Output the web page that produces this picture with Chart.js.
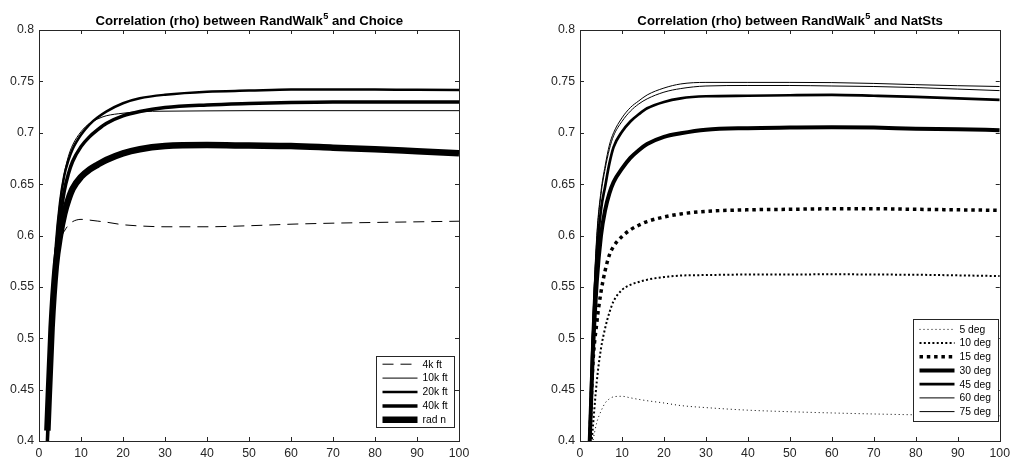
<!DOCTYPE html>
<html>
<head>
<meta charset="utf-8">
<script src="https://cdn.jsdelivr.net/npm/chart.js@4.4.1/dist/chart.umd.min.js"></script>
<style>
  html, body { margin: 0; padding: 0; background: #fff; }
  body { width: 1015px; height: 462px; position: relative; overflow: hidden; }
  .painel { position: absolute; top: 0; }
  #painelEsq { left: 0; }
  #painelDir { left: 507px; }
</style>
</head>
<body>
<div class="painel" id="painelEsq"><canvas id="graficoChoice" width="507" height="462"></canvas></div>
<div class="painel" id="painelDir"><canvas id="graficoNatSts" width="508" height="462"></canvas></div>
<script>
// x positions shared by every curve
const steps = [2, 3, 4, 5, 6, 7, 8, 10, 12, 14, 16, 20, 24, 30, 40, 50, 60, 70, 80, 90, 100];

// left panel: RandWalk5 vs Choice
const choice4k  = [0.39, 0.50, 0.57, 0.595, 0.604, 0.610, 0.6135, 0.6157, 0.615, 0.614, 0.613, 0.6105, 0.6093, 0.6085, 0.6085, 0.6095, 0.611, 0.612, 0.6127, 0.6133, 0.6139];
const choice10k = [0.39, 0.52, 0.592, 0.634, 0.660, 0.677, 0.688, 0.701, 0.709, 0.7135, 0.7165, 0.719, 0.7205, 0.721, 0.7213, 0.7215, 0.7215, 0.7215, 0.7215, 0.7215, 0.7215];
const choice20k = [0.39, 0.52, 0.59, 0.632, 0.658, 0.673, 0.684, 0.698, 0.708, 0.715, 0.7206, 0.7287, 0.7335, 0.737, 0.740, 0.741, 0.742, 0.7422, 0.742, 0.7418, 0.7416];
const choice40k = [0.40, 0.515, 0.58, 0.615, 0.643, 0.660, 0.672, 0.6865, 0.696, 0.703, 0.709, 0.7164, 0.7206, 0.7245, 0.7271, 0.7285, 0.7295, 0.730, 0.730, 0.730, 0.730];
const choiceRad = [0.41, 0.51, 0.57, 0.60, 0.621, 0.635, 0.6455, 0.657, 0.664, 0.669, 0.6735, 0.680, 0.684, 0.687, 0.688, 0.6875, 0.687, 0.6855, 0.684, 0.682, 0.680];

// right panel: RandWalk5 vs NatSts
const nat5  = [0.37, 0.398, 0.418, 0.429, 0.437, 0.441, 0.443, 0.4435, 0.442, 0.4405, 0.4392, 0.437, 0.4345, 0.4325, 0.430, 0.4285, 0.4273, 0.4263, 0.4255, 0.425, 0.4245];
const nat10 = [0.36, 0.41, 0.458, 0.49, 0.51, 0.525, 0.536, 0.547, 0.552, 0.5548, 0.557, 0.5595, 0.561, 0.5615, 0.562, 0.562, 0.5623, 0.562, 0.5618, 0.5612, 0.5605];
const nat15 = [0.36, 0.47, 0.515, 0.545, 0.566, 0.581, 0.5895, 0.599, 0.6055, 0.61, 0.6136, 0.618, 0.621, 0.6235, 0.625, 0.6255, 0.626, 0.626, 0.6255, 0.625, 0.6245];
const nat30 = [0.36, 0.48, 0.555, 0.600, 0.625, 0.641, 0.652, 0.665, 0.6755, 0.683, 0.689, 0.696, 0.6995, 0.703, 0.7045, 0.705, 0.7053, 0.705, 0.704, 0.7035, 0.7025];
const nat45 = [0.36, 0.50, 0.58, 0.625, 0.648, 0.670, 0.686, 0.701, 0.711, 0.718, 0.7238, 0.730, 0.7335, 0.7355, 0.736, 0.7365, 0.7368, 0.736, 0.735, 0.7335, 0.732];
const nat60 = [0.36, 0.51, 0.60, 0.643, 0.668, 0.688, 0.700, 0.7145, 0.7245, 0.731, 0.7368, 0.7435, 0.7475, 0.749, 0.749, 0.749, 0.7488, 0.748, 0.7468, 0.7458, 0.745];
const nat75 = [0.36, 0.508, 0.597, 0.64, 0.665, 0.684, 0.697, 0.711, 0.721, 0.728, 0.733, 0.7395, 0.743, 0.7455, 0.746, 0.746, 0.7455, 0.745, 0.744, 0.7425, 0.741];

const xTicks = [0, 100, 10];     // min, max, step
const yTicks = [0.4, 0.8, 0.05];

const FONT = "'Liberation Sans', Arial, Helvetica, sans-serif";
const INK = "#262626";

Chart.defaults.font.family = FONT;
Chart.defaults.color = INK;

function serie(label, values, width, dash) {
  return {
    label: label,
    data: steps.map((x, i) => ({ x: x, y: values[i] })),
    borderColor: "#000",
    borderWidth: width,
    borderDash: dash || [],
    borderCapStyle: "butt",
    pointRadius: 0,
    cubicInterpolationMode: "monotone",
    clip: 0,
    fill: false
  };
}

// box frame with inward ticks on all four sides
const frameTicks = {
  id: "frameTicks",
  afterDatasetsDraw(chart) {
    const { ctx, chartArea: a, scales } = chart;
    const len = 4;
    ctx.save();
    ctx.strokeStyle = INK;
    ctx.lineWidth = 1;
    ctx.setLineDash([]);
    ctx.beginPath();
    scales.x.ticks.forEach(t => {
      const px = Math.round(scales.x.getPixelForValue(t.value)) + 0.5;
      ctx.moveTo(px, a.bottom); ctx.lineTo(px, a.bottom - len);
      ctx.moveTo(px, a.top); ctx.lineTo(px, a.top + len);
    });
    scales.y.ticks.forEach(t => {
      const py = Math.round(scales.y.getPixelForValue(t.value)) + 0.5;
      ctx.moveTo(a.left, py); ctx.lineTo(a.left + len, py);
      ctx.moveTo(a.right, py); ctx.lineTo(a.right - len, py);
    });
    ctx.stroke();
    ctx.strokeRect(Math.round(a.left) + 0.5, Math.round(a.top) + 0.5,
      Math.round(a.right - a.left), Math.round(a.bottom - a.top));
    ctx.restore();
  }
};

// legend box drawn inside the plot, bottom right
const boxLegend = {
  id: "boxLegend",
  afterDatasetsDraw(chart, args, opts) {
    const { ctx, chartArea: a } = chart;
    const sets = chart.data.datasets;
    const left = Math.round(a.right - opts.offsetRight - opts.width) + 0.5;
    const top = Math.round(a.bottom - opts.offsetBottom - opts.height) + 0.5;
    const pad = (opts.height - opts.rowH * sets.length) / 2;
    ctx.save();
    ctx.fillStyle = "#fff";
    ctx.fillRect(left, top, opts.width, opts.height);
    ctx.strokeStyle = INK;
    ctx.lineWidth = 1;
    ctx.strokeRect(left, top, opts.width, opts.height);
    ctx.font = "10.3px " + FONT;
    ctx.textBaseline = "middle";
    ctx.textAlign = "left";
    sets.forEach((ds, i) => {
      const cy = top + pad + opts.rowH * (i + 0.5);
      ctx.beginPath();
      ctx.strokeStyle = "#000";
      ctx.lineWidth = ds.borderWidth;
      ctx.lineCap = "butt";
      ctx.setLineDash(ds.borderDash);
      ctx.moveTo(left + 6, cy);
      ctx.lineTo(left + 41, cy);
      ctx.stroke();
      ctx.fillStyle = "#000";
      ctx.fillText(ds.label, left + 46, cy + 0.5);
    });
    ctx.restore();
  }
};

// title with a raised "5"
const supTitle = {
  id: "supTitle",
  afterDraw(chart, args, opts) {
    const { ctx, chartArea: a } = chart;
    const base = "bold 13.2px " + FONT;
    const small = "bold 9.2px " + FONT;
    ctx.save();
    ctx.fillStyle = "#000";
    ctx.textBaseline = "alphabetic";
    ctx.textAlign = "left";
    ctx.font = base;
    const w1 = ctx.measureText(opts.before).width;
    const w3 = ctx.measureText(opts.after).width;
    ctx.font = small;
    const w2 = ctx.measureText(opts.sup).width;
    let x = (a.left + a.right) / 2 - (w1 + w2 + w3) / 2;
    const y = a.top - 5;
    ctx.font = base;
    ctx.fillText(opts.before, x, y);
    x += w1 + 0.5;
    ctx.font = small;
    ctx.fillText(opts.sup, x, y - 5.7);
    x += w2;
    ctx.font = base;
    ctx.fillText(opts.after, x, y);
    ctx.restore();
  }
};

function montarGrafico(canvasId, datasets, padding, legend, title) {
  return new Chart(document.getElementById(canvasId), {
    type: "line",
    data: { datasets: datasets },
    options: {
      responsive: false,
      animation: false,
      devicePixelRatio: 1,
      layout: { padding: padding },
      plugins: {
        legend: { display: false },
        tooltip: { enabled: false },
        boxLegend: legend,
        supTitle: title
      },
      scales: {
        x: {
          type: "linear",
          min: xTicks[0],
          max: xTicks[1],
          grid: { display: false, drawTicks: false },
          border: { display: false },
          ticks: {
            stepSize: xTicks[2],
            padding: 5,
            color: INK,
            font: { size: 12.3 },
            maxRotation: 0
          },
          afterFit: s => { s.height = 21; }
        },
        y: {
          type: "linear",
          min: yTicks[0],
          max: yTicks[1],
          grid: { display: false, drawTicks: false },
          border: { display: false },
          ticks: {
            stepSize: yTicks[2],
            padding: 5,
            color: INK,
            font: { size: 12.3 },
            callback: v => String(Number(v.toFixed(2)))
          },
          afterFit: s => { s.width = 34; }
        }
      }
    },
    plugins: [frameTicks, boxLegend, supTitle]
  });
}

montarGrafico("graficoChoice", [
  serie("4k ft", choice4k, 1, [11, 7]),
  serie("10k ft", choice10k, 1),
  serie("20k ft", choice20k, 2.5),
  serie("40k ft", choice40k, 3.5),
  serie("rad n", choiceRad, 6.5)
], { top: 30, left: 5, right: 48, bottom: 0 },
  { width: 78, height: 71, offsetRight: 5, offsetBottom: 14, rowH: 13.9 },
  { before: "Correlation (rho) between RandWalk", sup: "5", after: " and Choice" });

montarGrafico("graficoNatSts", [
  serie("5 deg", nat5, 1, [1, 3]),
  serie("10 deg", nat10, 2, [2, 2.3]),
  serie("15 deg", nat15, 3.5, [3.5, 3.8]),
  serie("30 deg", nat30, 4),
  serie("45 deg", nat45, 2.7),
  serie("60 deg", nat60, 1),
  serie("75 deg", nat75, 1)
], { top: 30, left: 39, right: 15, bottom: 0 },
  { width: 85, height: 102, offsetRight: 2, offsetBottom: 20, rowH: 13.7 },
  { before: "Correlation (rho) between RandWalk", sup: "5", after: " and NatSts" });
</script>
</body>
</html>
